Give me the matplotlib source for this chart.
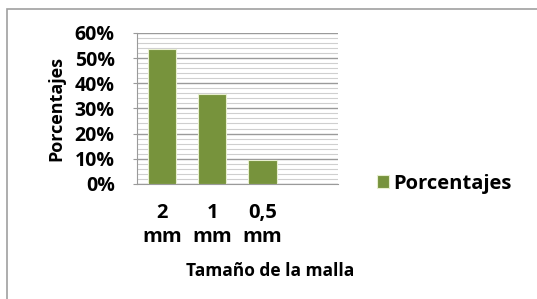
import matplotlib
matplotlib.use('Agg')

import numpy as np
from matplotlib import pyplot as plt
from matplotlib.patches import Rectangle

categorias = ['2\nmm', '1\nmm', '0,5\nmm']
porcentajes = [53.5, 35.7, 9.5]
yticks = [0, 10, 20, 30, 40, 50, 60]

plt.rcParams['font.family'] = ['Open Sans', 'DejaVu Sans']

fig = plt.figure(figsize=(5.37, 2.99), dpi=100)
ax = fig.add_axes([0.255, 0.385, 0.374, 0.505])

x = np.arange(len(categorias))
ax.bar(x, porcentajes, width=0.56, color='#77933C', edgecolor='#e8efd0',
       linewidth=0.8, zorder=3, label='Porcentajes')

ax.set_xlim(-0.5, 3.5)
ax.set_ylim(0, 60)
ax.set_yticks(yticks)
ax.set_yticklabels(['%d%%' % v for v in yticks], fontsize=14, fontweight='bold')
ax.set_yticks(np.arange(0, 61, 2), minor=True)
ax.set_xticks(x)
ax.set_xticklabels(categorias, fontsize=14.5, fontweight='bold', linespacing=1.25)

ax.grid(axis='y', which='major', color='#9a9a9a', linewidth=1.0, zorder=0)
ax.grid(axis='y', which='minor', color='#cfcfcf', linewidth=0.8, zorder=0)
ax.tick_params(axis='y', which='major', length=3, color='#9a9a9a', pad=13)
ax.tick_params(axis='y', which='minor', length=0)
ax.tick_params(axis='x', length=0, pad=14)

for s in ['top', 'right']:
    ax.spines[s].set_visible(False)
ax.spines['left'].set_color('#9a9a9a')
ax.spines['bottom'].set_color('#9a9a9a')

ax.set_ylabel('Porcentajes', fontsize=13, fontweight='bold', labelpad=7)
fig.text(0.503, 0.093, 'Tamaño de la malla', ha='center', va='center',
         fontsize=12.5, fontweight='bold')

ax.legend(loc='center left', bbox_to_anchor=(1.105, 0.0), frameon=False,
          handlelength=0.6, handleheight=0.6, handletextpad=0.2,
          prop={'size': 14.5, 'weight': 'bold'})

fig.patches.append(Rectangle((7 / 537, -0.1), 1.2, 1 - 9 / 299 + 0.1,
                             transform=fig.transFigure, fill=False,
                             edgecolor='#a0a0a0', linewidth=1.2))

plt.savefig('out.png', dpi=100)
